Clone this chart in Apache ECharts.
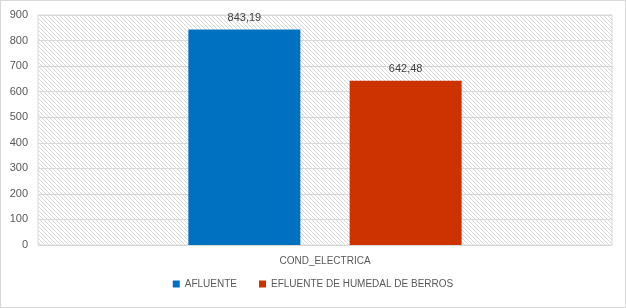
<!DOCTYPE html>
<html><head><meta charset="utf-8">
<script src="https://cdn.jsdelivr.net/npm/echarts@6/dist/echarts.min.js"></script>
<style>html,body{margin:0;padding:0;background:#fff}#c{width:626px;height:308px;box-sizing:border-box;border:1px solid #d9d9d9}</style>
</head><body><div id="c"></div>
<script>
const categories = ['COND_ELECTRICA'];
const seriesNames = ['AFLUENTE', 'EFLUENTE DE HUMEDAL DE BERROS'];
const afluente = [843.19];
const efluente = [642.48];
const yTicks = [0, 100, 200, 300, 400, 500, 600, 700, 800, 900];

const cv = document.createElement('canvas');
cv.width = 8; cv.height = 8;
const g = cv.getContext('2d');
g.fillStyle = '#fff'; g.fillRect(0, 0, 8, 8);
g.fillStyle = '#d6d6d6';
for (let x = 0; x < 8; x++) for (let y = 0; y < 8; y++) if (((x - y) % 4 + 4) % 4 === 0) g.fillRect(x, y, 1, 1);

const font = '"Liberation Sans", Arial, sans-serif';
const chart = echarts.init(document.getElementById('c'), null, {renderer: 'canvas'});
const fmt = v => v.toFixed(2).replace('.', ',');
chart.setOption({
  animation: false,
  textStyle: {fontFamily: font},
  grid: {left: 37, right: 13, top: 14, bottom: 62, show: true, backgroundColor: {image: cv, repeat: 'repeat'}, borderColor: '#d9d9d9', borderWidth: 1},
  legend: {bottom: 13, left: 'center', itemWidth: 7, itemHeight: 7, itemGap: 22, icon: 'rect',
    textStyle: {fontSize: 10, color: '#595959', fontFamily: font}, data: seriesNames},
  xAxis: {type: 'category', data: categories, axisTick: {show: false}, axisLine: {lineStyle: {color: '#d9d9d9'}},
    axisLabel: {fontSize: 10, color: '#595959', margin: 11}},
  yAxis: {type: 'value', min: yTicks[0], max: yTicks[yTicks.length - 1], interval: 100,
    axisLine: {show: false}, axisTick: {show: false},
    axisLabel: {fontSize: 11, color: '#595959', margin: 10}, splitLine: {lineStyle: {color: '#d9d9d9'}}},
  series: [
    {name: seriesNames[0], type: 'bar', data: afluente, barWidth: 112, barGap: '44%', itemStyle: {color: '#0070C0'},
      label: {show: true, position: 'top', distance: 6, fontSize: 11, color: '#404040', formatter: p => fmt(p.value)}},
    {name: seriesNames[1], type: 'bar', data: efluente, barWidth: 112, itemStyle: {color: '#CC3300'},
      label: {show: true, position: 'top', distance: 6, fontSize: 11, color: '#404040', formatter: p => fmt(p.value)}}
  ]
});
</script></body></html>
